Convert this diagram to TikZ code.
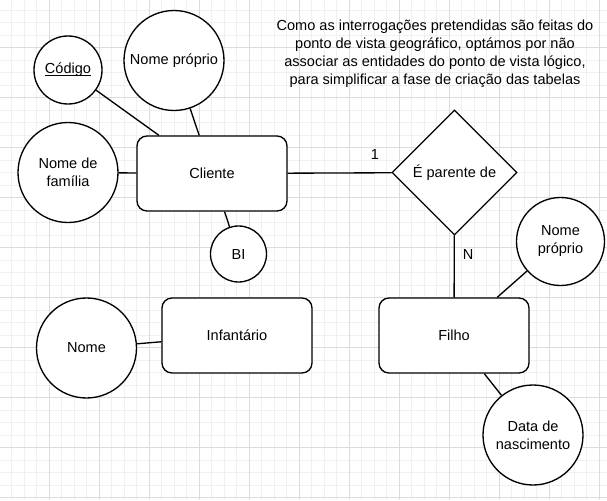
\documentclass[tikz,border=0pt]{standalone}
\usepackage{fontspec}
\setmainfont{Liberation Sans}
\usetikzlibrary{shapes.geometric}
\definecolor{gridmajor}{RGB}{220,220,220}
\definecolor{gridminor}{RGB}{240,240,240}
\newcommand{\keyattr}[1]{\setbox0\hbox{#1}\rlap{\rule[-1.2pt]{\wd0}{0.6pt}}\box0}

\begin{document}
\begin{tikzpicture}[x=0.75pt,y=0.75pt,yscale=-1,xscale=1,
  every node/.style={font=\fontsize{10.9}{13.5}\selectfont},
  entity/.style={draw, line width=1pt, fill=white, rounded corners=7.5pt, minimum width=112.5pt, minimum height=56.25pt, align=center},
  attrib/.style={draw, line width=1pt, fill=white, circle, inner sep=0pt, align=center},
  relation/.style={draw, line width=1pt, fill=white, diamond, aspect=1, inner sep=0pt, minimum width=93.75pt, minimum height=93.75pt},
  link/.style={line width=1pt},
  card/.style={inner sep=0pt}]
\path[use as bounding box] (0,0) rectangle (607,500);
\fill[white] (0,0) rectangle (607,500);

%Grid: minor lines
\foreach \i in {0,...,48} {\draw[gridminor, line width=0.75pt] ({-0.7+12.5*\i},0) -- ({-0.7+12.5*\i},500);}
\foreach \i in {0,...,40} {\draw[gridminor, line width=0.75pt] (0,{-2.3+12.5*\i}) -- (607,{-2.3+12.5*\i});}
%Grid: major lines
\foreach \i in {1,...,12} {\draw[gridmajor, line width=0.75pt] ({-0.7+50*\i},0) -- ({-0.7+50*\i},500);}
\foreach \i in {1,...,10} {\draw[gridmajor, line width=0.75pt] (0,{-2.3+50*\i}) -- (607,{-2.3+50*\i});}

%Shape: Entities
\node[entity] (cliente) at (212,173.5) {Cliente};
\node[entity] (infantario) at (237,335.5) {Infantário};
\node[entity] (filho) at (454,335.5) {Filho};

%Shape: Relationship
\node[relation] (parente) at (454.5,172.5) {É parente de};

%Shape: Attributes of Cliente
\node[attrib, minimum size=51pt] (codigo) at (68,70) {\keyattr{Código}};
\node[attrib, minimum size=75pt] (nomeproprio) at (174,60.5) {Nome próprio};
\node[attrib, minimum size=75pt] (nomefamilia) at (68,172.5) {Nome de\\família};
\node[attrib, minimum size=42pt] (bi) at (238.5,254) {BI};

%Shape: Attribute of Infantario
\node[attrib, minimum size=75pt] (nome) at (86.5,348) {Nome};

%Shape: Attributes of Filho
\node[attrib, minimum size=66pt] (nomeproprioF) at (560.5,241.5) {Nome\\próprio};
\node[attrib, minimum size=75pt] (nascimento) at (533,435) {Data de\\nascimento};

%Connectors
\draw[link] (codigo) -- (cliente);
\draw[link] (nomeproprio) -- (cliente);
\draw[link] (nomefamilia) -- (cliente);
\draw[link] (bi) -- (cliente);
\draw[link] (nome) -- (infantario);
\draw[link] (nomeproprioF) -- (filho);
\draw[link] (nascimento) -- (filho);
\draw[link] (cliente) -- (parente);
\draw[link] (parente) -- (filho);

% Text Node
\node[card] (um) at (375,154) {1};
% Text Node
\node[card] (ene) at (468,254) {N};
% Text Node
\node[align=center, inner sep=0pt] (nota) at (435,54) {Como as interrogações pretendidas são feitas do\\ponto de vista geográfico, optámos por não\\associar as entidades do ponto de vista lógico,\\para simplificar a fase de criação das tabelas};

\end{tikzpicture}
\end{document}
